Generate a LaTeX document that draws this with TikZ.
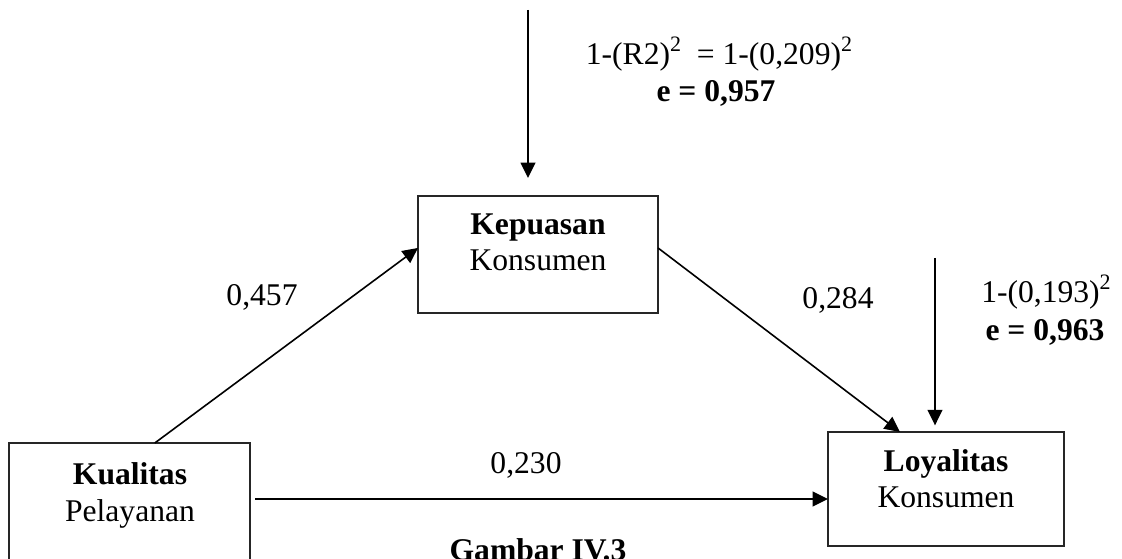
\documentclass[tikz,border=0pt]{standalone}
\usepackage{fontspec}
\setmainfont{Liberation Serif}
\usetikzlibrary{arrows.meta,calc}
\newcommand\mysq{\raisebox{0.42em}{\fontsize{16.5}{16.5}\selectfont 2}}
\begin{document}
\begin{tikzpicture}[x=0.75pt,y=-0.75pt,
  every node/.style={font=\fontsize{23.7}{28}\selectfont, inner sep=0pt, outer sep=0pt},
  box/.style={draw=black!85, line width=1pt, minimum width=#1},
  txt/.style={anchor=base},
  arr/.style={line width=1.2pt, -{Triangle[length=11.5pt,width=11pt]}}]
\useasboundingbox (0,0) rectangle (1122,559);
% boxes
\node[box=180pt, minimum height=87.75pt] (kep) at (538,254.5) {};
\node[box=177pt, minimum height=85.5pt] (loy) at (946,489) {};
\node[box=180.75pt, minimum height=90pt] (kua) at (129.5,503) {};
% box texts
\node[txt] (kep1) at (538,235) {\textbf{Kepuasan}};
\node[txt] (kep2) at (538,271) {Konsumen};
\node[txt] (loy1) at (946,472) {\textbf{Loyalitas}};
\node[txt] (loy2) at (946,508) {Konsumen};
\node[txt] (kua1) at (130,485) {\textbf{Kualitas}};
\node[txt] (kua2) at (130,522) {Pelayanan};
% path coefficients
\node[txt] (c1) at (262,306) {0,457};
\node[txt] (c2) at (838,309) {0,284};
\node[txt] (c3) at (526,474) {0,230};
% error terms
\node[txt] (f1) at (719,65) {1-(R2)\mysq\ \ = 1-(0,209)\mysq};
\node[txt] (e1) at (716,102) {\textbf{e = 0,957}};
\node[txt] (f2) at (1046,303) {1-(0,193)\mysq};
\node[txt] (e2) at (1045,341) {\textbf{e = 0,963}};
% caption
\node[txt] (cap) at (538,561) {\textbf{Gambar IV.3}};
% connectors
\draw[arr] ($(kua.north west)!0.605!(kua.north east)$) -- ($(kep.north west)!0.444!(kep.south west)$);
\draw[arr] ($(kep.north east)!0.444!(kep.south east)$) -- ($(loy.north west)!0.305!(loy.north east)$);
\coordinate (h) at (0,499);
\draw[arr, shorten <=4pt] (kua.east |- h) -- (loy.west |- h);
\coordinate (e1s) at (528,10);
\draw[arr, shorten >=13.5pt] (e1s) -- (e1s |- kep.north);
\coordinate (e2s) at (935,258);
\draw[arr, shorten >=5pt] (e2s) -- (e2s |- loy.north);
\end{tikzpicture}
\end{document}
